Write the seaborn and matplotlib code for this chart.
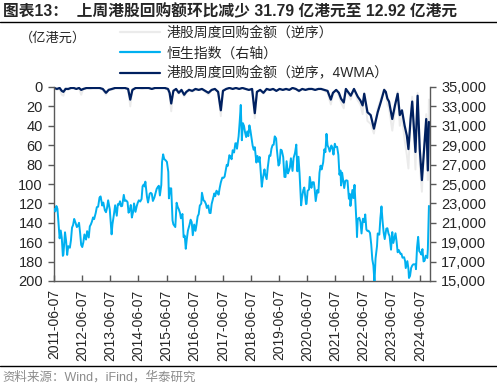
import numpy as np
import pandas as pd
import matplotlib
matplotlib.use("Agg")
import matplotlib.pyplot as plt
import seaborn as sns
from matplotlib.lines import Line2D
from matplotlib.ticker import FuncFormatter

sns.set_style("white")
plt.rcParams["font.family"] = ["Liberation Sans", "Noto Sans CJK SC", "DejaVu Sans"]

# ---------------- data ----------------
hsi_dates = [
    "2011-06-10", "2011-06-24", "2011-07-08", "2011-07-22", "2011-08-05", "2011-08-19", "2011-09-02", "2011-09-16",
    "2011-09-30", "2011-10-07", "2011-10-28", "2011-11-11", "2011-11-25", "2011-12-09", "2011-12-30",
    "2012-01-13", "2012-01-27", "2012-02-10", "2012-02-24", "2012-03-09", "2012-03-30", "2012-04-13", "2012-04-27",
    "2012-05-11", "2012-05-25", "2012-06-08", "2012-06-22", "2012-07-06", "2012-07-27", "2012-08-10", "2012-08-31",
    "2012-09-14", "2012-09-28", "2012-10-12", "2012-10-26", "2012-11-09", "2012-11-30", "2012-12-14", "2012-12-31",
    "2013-01-18", "2013-02-01", "2013-02-22", "2013-03-08", "2013-03-28", "2013-04-12", "2013-04-26", "2013-05-10",
    "2013-05-31", "2013-06-14", "2013-06-24", "2013-07-05", "2013-07-26", "2013-08-09", "2013-08-30", "2013-09-13",
    "2013-09-27", "2013-10-11", "2013-10-25", "2013-11-08", "2013-11-29", "2013-12-13", "2013-12-31",
    "2014-01-17", "2014-01-30", "2014-02-14", "2014-02-28", "2014-03-14", "2014-03-31", "2014-04-11", "2014-04-30",
    "2014-05-16", "2014-05-30", "2014-06-13", "2014-06-30", "2014-07-18", "2014-07-31", "2014-08-15", "2014-08-29",
    "2014-09-05", "2014-09-26", "2014-10-10", "2014-10-31", "2014-11-14", "2014-11-28", "2014-12-12", "2014-12-31",
    "2015-01-16", "2015-01-30", "2015-02-13", "2015-02-27", "2015-03-13", "2015-03-31", "2015-04-10", "2015-04-24",
    "2015-05-08", "2015-05-29", "2015-06-12", "2015-06-30", "2015-07-08", "2015-07-24", "2015-08-07", "2015-08-24",
    "2015-09-04", "2015-09-29", "2015-10-16", "2015-10-30", "2015-11-13", "2015-11-30", "2015-12-11", "2015-12-31",
    "2016-01-15", "2016-01-29", "2016-02-12", "2016-02-26", "2016-03-11", "2016-03-31", "2016-04-15", "2016-04-29",
    "2016-05-13", "2016-05-31", "2016-06-17", "2016-06-30", "2016-07-15", "2016-07-29", "2016-08-12", "2016-08-31",
    "2016-09-09", "2016-09-30", "2016-10-14", "2016-10-31", "2016-11-11", "2016-11-30", "2016-12-16", "2016-12-30",
    "2017-01-13", "2017-01-26", "2017-02-17", "2017-02-28", "2017-03-17", "2017-03-31", "2017-04-13", "2017-04-28",
    "2017-05-12", "2017-05-31", "2017-06-16", "2017-06-30", "2017-07-14", "2017-07-28", "2017-08-11", "2017-08-31",
    "2017-09-15", "2017-09-29", "2017-10-13", "2017-10-31", "2017-11-17", "2017-11-30", "2017-12-08", "2017-12-29",
    "2018-01-12", "2018-01-26", "2018-02-09", "2018-02-23", "2018-03-09", "2018-03-23", "2018-04-06", "2018-04-20",
    "2018-05-04", "2018-05-18", "2018-06-01", "2018-06-22", "2018-06-29", "2018-07-13", "2018-07-27", "2018-08-17",
    "2018-08-31", "2018-09-14", "2018-09-28", "2018-10-12", "2018-10-26", "2018-11-09", "2018-11-30", "2018-12-07",
    "2018-12-28", "2019-01-11", "2019-01-31", "2019-02-15", "2019-02-28", "2019-03-15", "2019-03-29", "2019-04-12",
    "2019-04-30", "2019-05-10", "2019-05-31", "2019-06-14", "2019-06-28", "2019-07-12", "2019-07-31", "2019-08-16",
    "2019-08-30", "2019-09-13", "2019-09-30", "2019-10-11", "2019-10-25", "2019-11-08", "2019-11-29", "2019-12-13",
    "2019-12-31", "2020-01-17", "2020-01-31", "2020-02-14", "2020-02-28", "2020-03-13", "2020-03-20", "2020-03-31",
    "2020-04-17", "2020-04-30", "2020-05-22", "2020-05-29", "2020-06-12", "2020-06-30", "2020-07-10", "2020-07-31",
    "2020-08-14", "2020-08-31", "2020-09-11", "2020-09-25", "2020-10-16", "2020-10-30", "2020-11-13", "2020-11-27",
    "2020-12-11", "2020-12-31", "2021-01-15", "2021-01-29", "2021-02-12", "2021-02-26", "2021-03-12", "2021-03-26",
    "2021-04-16", "2021-04-30", "2021-05-14", "2021-05-31", "2021-06-11", "2021-06-30", "2021-07-16", "2021-07-30",
    "2021-08-13", "2021-08-20", "2021-09-03", "2021-09-30", "2021-10-15", "2021-10-29", "2021-11-12", "2021-11-30",
    "2021-12-10", "2021-12-20", "2021-12-31", "2022-01-14", "2022-01-28", "2022-02-11", "2022-02-25", "2022-03-11",
    "2022-03-15", "2022-03-25", "2022-04-14", "2022-04-29", "2022-05-13", "2022-05-31", "2022-06-17", "2022-06-30",
    "2022-07-15", "2022-07-29", "2022-08-12", "2022-08-31", "2022-09-16", "2022-09-30", "2022-10-14", "2022-10-28",
    "2022-11-11", "2022-11-30", "2022-12-09", "2022-12-30", "2023-01-13", "2023-01-27", "2023-02-10", "2023-02-24",
    "2023-03-10", "2023-03-31", "2023-04-14", "2023-04-28", "2023-05-12", "2023-05-31", "2023-06-16", "2023-06-30",
    "2023-07-14", "2023-07-28", "2023-08-11", "2023-08-25", "2023-09-08", "2023-09-29", "2023-10-13", "2023-10-27",
    "2023-11-17", "2023-11-30", "2023-12-08", "2023-12-29", "2024-01-12", "2024-01-19", "2024-02-02", "2024-02-16",
    "2024-03-01", "2024-03-15", "2024-04-12", "2024-04-19", "2024-05-03", "2024-05-17", "2024-05-31", "2024-06-14",
    "2024-06-28", "2024-07-12", "2024-07-26", "2024-08-09", "2024-08-23", "2024-09-06", "2024-09-13", "2024-09-20",
    "2024-09-27", "2024-10-04",
]
hsi_values = [
    22420, 22170, 22730, 22440, 20950, 19400, 20210, 19455,
    17590, 17710, 20020, 19140, 17690, 18590, 18430,
    19200, 20500, 20780, 21400, 21090, 20560, 20700, 21000,
    19960, 18710, 18500, 18990, 19800, 19270, 20140, 19480,
    20630, 20840, 21140, 21550, 21380, 22030, 22610, 22660,
    23600, 23720, 22780, 23090, 22300, 22090, 22550, 23320,
    22390, 20970, 19810, 20850, 21970, 22810, 21730, 22920,
    22860, 23220, 22700, 22740, 23880, 23250, 23300,
    23130, 22040, 22300, 22840, 21540, 22150, 23000, 22130,
    22710, 23080, 23320, 23190, 23450, 24760, 24950, 24740,
    25240, 23680, 23090, 23990, 24090, 23990, 23250, 23600,
    24100, 24500, 24680, 24820, 23820, 24900, 27270, 28060,
    27580, 27420, 27280, 26250, 23520, 24550, 24550, 21250,
    20840, 20560, 23070, 22640, 22400, 21990, 21460, 21910,
    19520, 19680, 18320, 19360, 20200, 20780, 21320, 21070,
    19720, 20820, 20170, 20790, 21660, 21890, 22770, 22980,
    24100, 23300, 23230, 22930, 22530, 22790, 22020, 22000,
    22940, 23360, 24030, 23740, 24310, 24110, 23900, 24620,
    25160, 25660, 25630, 25760, 26390, 26980, 26880, 27970,
    27810, 27550, 28480, 28250, 29200, 29180, 28640, 29920,
    31410, 33150, 29510, 31270, 30990, 30310, 29840, 30420,
    29930, 31050, 30490, 29340, 28960, 28530, 28800, 27210,
    27890, 27290, 27790, 26300, 24720, 25600, 26510, 26060,
    25500, 26670, 27940, 27900, 28630, 29010, 29050, 29910,
    29700, 28550, 26900, 27120, 28540, 28470, 27780, 25730,
    25720, 27350, 26090, 26310, 26670, 27650, 26350, 27690,
    28190, 29060, 26310, 27810, 26130, 24030, 22800, 23600,
    24380, 24640, 22930, 22960, 24300, 24430, 25730, 24600,
    25180, 25180, 24500, 23240, 24390, 24110, 26160, 26890,
    26500, 27230, 28570, 28280, 30170, 28980, 28740, 28340,
    28970, 28720, 28030, 29150, 28840, 28830, 28000, 25960,
    26390, 24850, 26160, 24580, 25330, 25380, 25330, 23480,
    23990, 22740, 23400, 24380, 23550, 24910, 22770, 20550,
    19530, 21400, 21520, 21090, 19900, 21420, 21080, 21860,
    20300, 20160, 20180, 19950, 18760, 17220, 16590, 14860,
    17330, 18600, 19900, 19780, 21510, 22690, 21190, 20010,
    19320, 20400, 20440, 19890, 19630, 18230, 20040, 18920,
    19410, 19920, 19080, 17960, 18200, 17810, 17810, 17400,
    17450, 17040, 16330, 17050, 16240, 15310, 15530, 16340,
    16590, 16720, 16720, 16220, 18480, 19550, 18080, 17940,
    17720, 18290, 17020, 17090, 17610, 17440, 17370, 18260,
    20630, 22740,
]

buyback_dates = [
    "2011-06-10", "2011-07-15", "2011-08-19", "2011-09-16", "2011-10-07", "2011-11-04", "2011-12-09",
    "2012-01-13", "2012-02-17", "2012-03-23", "2012-04-27", "2012-05-25", "2012-06-22", "2012-08-03",
    "2012-09-14", "2012-10-26", "2012-12-07", "2013-01-18", "2013-03-01", "2013-04-12", "2013-05-17",
    "2013-06-28", "2013-08-09", "2013-09-20", "2013-11-01", "2013-12-13", "2014-01-24", "2014-02-21",
    "2014-03-21", "2014-05-02", "2014-06-13", "2014-07-25", "2014-09-05", "2014-10-17", "2014-11-28",
    "2015-01-09", "2015-02-20", "2015-04-03", "2015-05-15", "2015-06-26", "2015-07-17", "2015-08-07",
    "2015-09-04", "2015-10-09", "2015-11-13", "2015-12-18", "2016-01-22", "2016-02-19", "2016-03-25",
    "2016-05-06", "2016-06-17", "2016-07-29", "2016-09-09", "2016-10-21", "2016-12-02", "2017-01-13",
    "2017-02-24", "2017-04-07", "2017-05-12", "2017-06-09", "2017-07-21", "2017-09-01", "2017-10-13",
    "2017-11-24", "2018-01-05", "2018-02-16", "2018-03-30", "2018-05-11", "2018-06-22", "2018-07-27",
    "2018-08-24", "2018-10-05", "2018-11-16", "2018-12-28", "2019-02-08", "2019-03-22", "2019-05-03",
    "2019-06-14", "2019-07-26", "2019-09-06", "2019-10-18", "2019-11-29", "2020-01-10", "2020-02-21",
    "2020-04-03", "2020-05-15", "2020-06-26", "2020-08-07", "2020-09-18", "2020-10-30", "2020-12-04",
    "2021-01-15", "2021-02-26", "2021-04-09", "2021-05-07", "2021-06-18", "2021-07-23", "2021-08-20",
    "2021-09-24", "2021-10-22", "2021-11-26", "2021-12-24", "2022-02-04", "2022-03-25", "2022-04-29",
    "2022-05-27", "2022-06-17", "2022-07-29", "2022-09-09", "2022-10-21", "2022-12-09", "2023-01-20",
    "2023-03-03", "2023-03-24", "2023-04-14", "2023-05-05", "2023-06-16", "2023-07-21", "2023-08-25",
    "2023-09-22", "2023-10-20", "2023-11-24", "2023-12-22", "2024-01-12", "2024-02-09", "2024-03-01",
    "2024-04-12", "2024-05-10", "2024-06-07", "2024-07-05", "2024-08-09", "2024-08-30", "2024-09-20",
    "2024-09-27", "2024-10-04",
]
buyback_weekly = [
    1, 3, 2, 8, 9, 1, 3,
    1, 1, 2, 1, 8, 2, 1,
    2, 1, 1, 1, 3, 8, 2,
    3, 1, 1, 2, 1, 2, 20,
    2, 1, 1, 2, 1, 1, 2,
    1, 1, 1, 1, 3, 8, 25,
    3, 3, 7, 3, 10, 6, 2,
    5, 3, 3, 2, 5, 8, 3,
    2, 6, 30, 3, 2, 1, 2,
    1, 2, 1, 2, 3, 3, 32,
    5, 3, 7, 2, 3, 2, 4,
    2, 3, 2, 3, 1, 2, 5,
    2, 3, 3, 2, 3, 2, 2,
    4, 6, 18, 8, 3, 9, 16,
    22, 2, 8, 13, 2, 14, 18,
    28, 6, 35, 38, 48, 22, 12,
    2, 6, 18, 22, 45, 24, 5,
    40, 30, 55, 70, 84, 30, 10,
    85, 6, 80, 108, 50, 28, 96,
    44.71, 12.92,
]
buyback_wma = [
    1, 2, 1, 4, 5, 2, 2,
    1, 1, 2, 1, 3, 2, 1,
    1, 1, 1, 1, 2, 6, 3,
    2, 1, 1, 1, 1, 2, 13,
    3, 1, 1, 1, 1, 1, 2,
    1, 1, 1, 1, 2, 6, 17,
    4, 2, 6, 3, 8, 5, 3,
    4, 2, 3, 2, 4, 6, 3,
    2, 5, 24, 4, 2, 1, 2,
    1, 2, 1, 2, 3, 2, 27,
    5, 3, 6, 2, 3, 2, 4,
    2, 3, 2, 3, 1, 2, 4,
    2, 3, 2, 2, 3, 2, 2,
    3, 4, 13, 6, 3, 6, 12,
    16, 2, 6, 9, 2, 10, 14,
    19, 7, 26, 29, 43, 26, 15,
    3, 5, 12, 15, 33, 19, 7,
    29, 24, 40, 50, 64, 33, 15,
    67, 9, 64, 96, 57, 33, 86,
    60, 36,
]

tick_labels = ["2011-06-07", "2012-06-07", "2013-06-07", "2014-06-07", "2015-06-07", "2016-06-07",
               "2017-06-07", "2018-06-07", "2019-06-07", "2020-06-07", "2021-06-07", "2022-06-07",
               "2023-06-07", "2024-06-07"]
left_ticks = [0, 20, 40, 60, 80, 100, 120, 140, 160, 180, 200]
right_ticks = [15000, 17000, 19000, 21000, 23000, 25000, 27000, 29000, 31000, 33000, 35000]

label_weekly = "港股周度回购金额（逆序）"
label_hsi = "恒生指数（右轴）"
label_wma = "港股周度回购金额（逆序，4WMA）"

hsi_df = pd.DataFrame({"date": pd.to_datetime(hsi_dates), "hsi": hsi_values})
bb_df = pd.DataFrame({"date": pd.to_datetime(buyback_dates), "weekly": buyback_weekly, "wma": buyback_wma})

# ---------------- figure ----------------
W, H = 497, 386
fig = plt.figure(figsize=(W / 100, H / 100), dpi=100)
L, R, T, B = 54, 430, 87, 281
ax = fig.add_axes([L / W, 1 - B / H, (R - L) / W, (B - T) / H])
ax2 = ax.twinx()

c_grey = "#ebebeb"
c_blue = "#00B0F0"
c_navy = "#002060"

sns.lineplot(data=bb_df, x="date", y="weekly", ax=ax, color=c_grey, lw=1.4, legend=False)
sns.lineplot(data=bb_df, x="date", y="wma", ax=ax, color=c_navy, lw=1.6, legend=False)
sns.lineplot(data=hsi_df, x="date", y="hsi", ax=ax2, color=c_blue, lw=1.4, legend=False)

ax.set_ylim(200, 0)
ax.set_yticks(left_ticks)
ax2.set_ylim(15000, 35000)
ax2.set_yticks(right_ticks)
ax2.yaxis.set_major_formatter(FuncFormatter(lambda v, p: f"{int(v):,}"))

xt = pd.to_datetime(tick_labels)
ax.set_xlim(pd.Timestamp("2011-06-07"), pd.Timestamp("2024-10-18"))
ax.set_xticks(xt)
ax.set_xticklabels(tick_labels, rotation=90, fontsize=10)
ax.set_xlabel("")
ax.set_ylabel("")
ax2.set_ylabel("")

spine_c = "#595959"
ax.spines["top"].set_visible(False)
ax2.spines["top"].set_visible(False)
ax.spines["right"].set_visible(False)
ax2.spines["left"].set_visible(False)
ax2.spines["bottom"].set_visible(False)
for s in ["left", "bottom"]:
    ax.spines[s].set_color(spine_c)
    ax.spines[s].set_linewidth(1.0)
ax2.spines["right"].set_color(spine_c)
ax2.spines["right"].set_linewidth(1.0)

ax.tick_params(axis="y", direction="out", length=4, width=1, color=spine_c, labelsize=10.5, pad=4, left=True)
ax.tick_params(axis="x", direction="in", length=4, width=1, color=spine_c, labelsize=10, pad=6, bottom=True)
ax2.tick_params(axis="y", direction="out", length=4, width=1, color=spine_c, labelsize=10.5, pad=4, right=True)
ax.grid(False)
ax2.grid(False)

# legend
handles = [
    Line2D([], [], color=c_grey, lw=1.6),
    Line2D([], [], color=c_blue, lw=1.6),
    Line2D([], [], color=c_navy, lw=1.6),
]
fig.legend(handles, [label_weekly, label_hsi, label_wma], loc="upper left",
           bbox_to_anchor=(120 / W, 1 - 26 / H), frameon=False, fontsize=10,
           handlelength=2.9, handletextpad=0.45, labelspacing=0.45, borderpad=0, borderaxespad=0,
           labelcolor="#262626")

fig.text(20 / W, 1 - 38 / H, "（亿港元）", fontsize=9.5, va="center", ha="left", color="#262626")

# title, rules, source
fig.text(3 / W, 1 - 12 / H, "图表13：  上周港股回购额环比减少 31.79 亿港元至 12.92 亿港元",
         fontsize=11.3, fontweight="bold", va="center", ha="left")
fig.add_artist(Line2D([0, 1], [1 - 22 / H, 1 - 22 / H], color="black", lw=1.0))
fig.add_artist(Line2D([0, 1], [1 - 366 / H, 1 - 366 / H], color="black", lw=1.0))
fig.text(2 / W, 1 - 377 / H, "资料来源：Wind，iFind，华泰研究", fontsize=9, color="#8c8c8c",
         va="center", ha="left")

fig.savefig("out.png", dpi=100)
